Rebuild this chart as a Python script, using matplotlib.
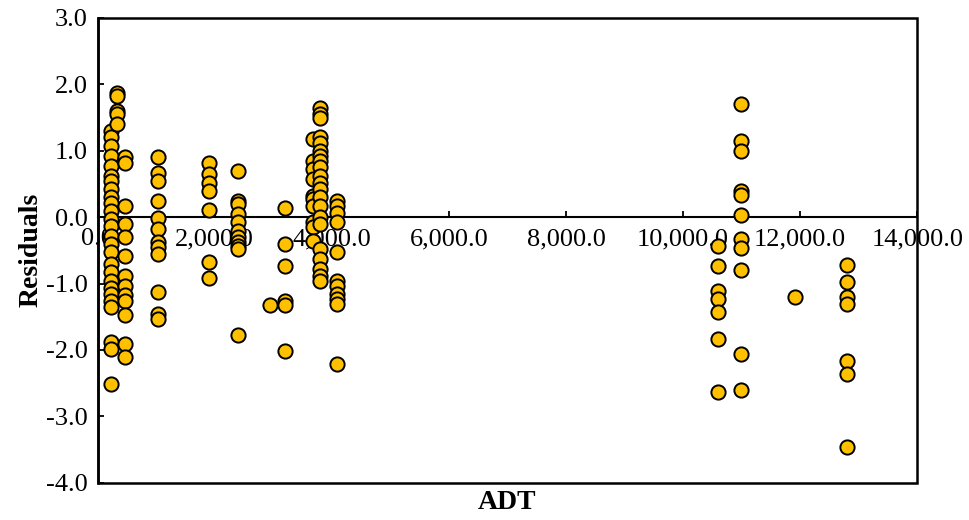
import numpy as np
import matplotlib
matplotlib.use("Agg")
import matplotlib.pyplot as plt
from matplotlib.patches import Rectangle
from matplotlib.ticker import FuncFormatter

# Residuals grouped by road segment ADT
adt_groups = [230, 330, 466, 1035, 1906, 2391, 2943, 3199, 3683, 3797, 4083,
              10601, 10983, 11911, 12794]

residual_groups = [
    [1.30, 1.20, 1.07, 0.92, 0.77, 0.62, 0.55, 0.42, 0.30, 0.22, 0.09, -0.03,
     -0.13, -0.28, -0.41, -0.53, -0.71, -0.83, -0.96, -1.06, -1.16, -1.26,
     -1.36, -1.88, -1.98, -2.51],
    [1.87, 1.82, 1.60, 1.55, 1.40],
    [0.90, 0.82, 0.17, -0.11, -0.30, -0.58, -0.88, -1.03, -1.18, -1.26, -1.48,
     -1.91, -2.11],
    [0.90, 0.66, 0.55, 0.24, -0.02, -0.18, -0.38, -0.45, -0.56, -1.12, -1.46,
     -1.53],
    [0.82, 0.65, 0.52, 0.40, 0.11, -0.67, -0.91],
    [0.69, 0.24, 0.20, 0.05, -0.07, -0.21, -0.30, -0.38, -0.43, -0.48, -1.77],
    [-1.33],
    [0.14, -0.41, -0.73, -1.27, -1.33, -2.01],
    [1.17, 0.85, 0.72, 0.57, 0.32, 0.27, 0.17, -0.08, -0.15, -0.36],
    [1.65, 1.55, 1.50, 1.20, 1.12, 1.00, 0.92, 0.85, 0.75, 0.62, 0.52, 0.42,
     0.30, 0.17, 0.00, -0.10, -0.48, -0.63, -0.78, -0.88, -0.96],
    [0.25, 0.17, 0.07, -0.08, -0.52, -0.96, -1.03, -1.16, -1.23, -1.31, -2.21],
    [-0.43, -0.73, -1.11, -1.23, -1.43, -1.83, -2.63],
    [1.71, 1.15, 1.00, 0.40, 0.33, 0.03, -0.33, -0.47, -0.80, -2.06, -2.61],
    [-1.20],
    [-0.72, -0.97, -1.20, -1.31, -2.16, -2.36, -3.46],
]

x_ticks = [0, 2000, 4000, 6000, 8000, 10000, 12000, 14000]
y_ticks = [-4, -3, -2, -1, 0, 1, 2, 3]

adt = np.concatenate([[a] * len(r) for a, r in zip(adt_groups, residual_groups)])
residuals = np.concatenate(residual_groups)

plt.rcParams["font.family"] = ["Liberation Serif", "DejaVu Serif"]

fig = plt.figure(figsize=(9.69, 5.20), dpi=100)
ax = fig.add_axes([97.7 / 969, 1 - 482.7 / 520, (917.3 - 97.7) / 969, (482.7 - 18) / 520])

ax.scatter(adt, residuals, s=105, facecolor="#FFC000", edgecolor="black",
           linewidths=1.4, zorder=3)

ax.set_xlim(0, 14000)
ax.set_ylim(-4, 3)
ax.set_xticks(x_ticks)
ax.set_yticks(y_ticks)
ax.xaxis.set_major_formatter(FuncFormatter(lambda v, p: f"{v:,.1f}"))
ax.yaxis.set_major_formatter(FuncFormatter(lambda v, p: f"{v:.1f}"))

# x axis crosses at zero residual
for side in ("top", "right"):
    ax.spines[side].set_visible(False)
ax.spines["bottom"].set_position(("data", 0))
ax.spines["bottom"].set_linewidth(1.5)
ax.spines["left"].set_linewidth(1.8)
ax.add_patch(Rectangle((0, 0), 1, 1, transform=ax.transAxes, fill=False,
                       edgecolor="black", linewidth=1.8, clip_on=False, zorder=2.6))

ax.tick_params(axis="both", direction="in", length=4, width=1.3, labelsize=19,
               colors="black")
ax.tick_params(axis="x", pad=8)
ax.tick_params(axis="y", pad=7)

ax.set_xlabel("ADT", fontsize=20, fontweight="bold", labelpad=0)
ax.xaxis.set_label_coords(0.5, -0.015)
ax.set_ylabel("Residuals", fontsize=20, fontweight="bold")
ax.yaxis.set_label_coords(-0.066, 0.5)

fig.savefig("out.png", dpi=100)
